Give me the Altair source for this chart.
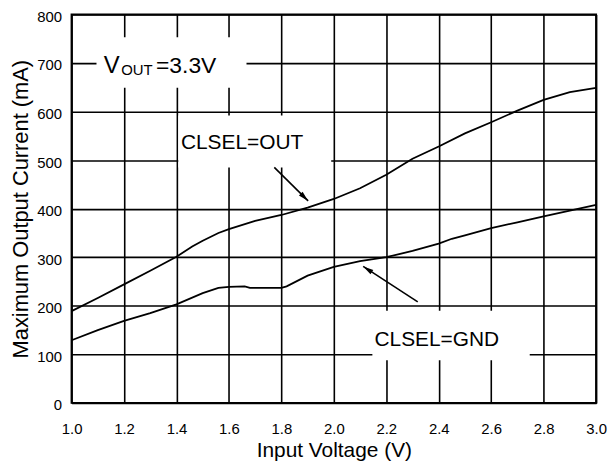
import altair as alt
import pandas as pd

# ---- data ----
vin_out = [1.0, 1.1, 1.2, 1.3, 1.4, 1.46, 1.5, 1.56, 1.6, 1.7, 1.8, 1.9, 2.0, 2.1,
           2.2, 2.3, 2.4, 2.5, 2.6, 2.7, 2.8, 2.9, 3.0]
i_out = [189, 216, 244, 272, 301, 322, 334, 350, 358, 375, 387, 402, 420, 442,
         470, 503, 528, 555, 578, 602, 624, 640, 649]

vin_gnd = [1.0, 1.1, 1.2, 1.3, 1.4, 1.5, 1.56, 1.6, 1.66, 1.68, 1.8, 1.82, 1.9,
           2.0, 2.1, 2.2, 2.3, 2.4, 2.45, 2.5, 2.6, 2.7, 2.8, 2.9, 3.0]
i_gnd = [129, 150, 169, 185, 203, 226, 237, 239, 240, 237, 237, 240, 262,
         280, 292, 300, 313, 328, 338, 345, 360, 372, 384, 396, 408]

x_ticks = [1.0, 1.2, 1.4, 1.6, 1.8, 2.0, 2.2, 2.4, 2.6, 2.8, 3.0]
y_ticks = [0, 100, 200, 300, 400, 500, 600, 700, 800]

# annotation boxes (data coordinates)
box_x1 = [1.095, 1.407, 2.147]
box_x2 = [1.667, 1.99, 2.747]
box_y1 = [649, 485, 88]
box_y2 = [753, 592, 190]

# annotation texts
big_text = ["CLSEL=OUT", "CLSEL=GND"]
big_x = [1.417, 2.155]
big_y = [523, 118]

# arrows
arr_x1 = [1.773, 2.32]
arr_y1 = [485, 208]
arr_x2 = [1.902, 2.112]
arr_y2 = [416, 281]
arr_ang = [135, 303]

FONT = "Liberation Sans"

df_lines = pd.concat([
    pd.DataFrame({"v": vin_out, "i": i_out, "s": "OUT"}),
    pd.DataFrame({"v": vin_gnd, "i": i_gnd, "s": "GND"}),
])
df_box = pd.DataFrame({"x1": box_x1, "x2": box_x2, "y1": box_y1, "y2": box_y2})
df_big = pd.DataFrame({"x": big_x, "y": big_y, "t": big_text})
df_arr = pd.DataFrame({"x1": arr_x1, "y1": arr_y1, "x2": arr_x2, "y2": arr_y2, "a": arr_ang})

xs = alt.Scale(domain=[1.0, 3.0], nice=False, zero=False)
ys = alt.Scale(domain=[0, 800], nice=False)

xax = alt.Axis(values=x_ticks, format=".1f", title="Input Voltage (V)",
               grid=True, ticks=False, tickSize=0, domain=False, labelFlush=False,
               labelPadding=19, labelFontSize=15, titleFontSize=21,
               titleY=54, titleBaseline="alphabetic")
yax = alt.Axis(values=y_ticks, title="Maximum Output Current (mA)",
               grid=True, ticks=False, tickSize=0, domain=False, labelFlush=False,
               labelPadding=10, labelFontSize=15, labelOffset=2, titleFontSize=22,
               titleX=-44, titleBaseline="alphabetic")

base = alt.Chart(df_lines)

lines = base.mark_line(color="black", strokeWidth=1.8).encode(
    x=alt.X("v:Q", scale=xs, axis=xax),
    y=alt.Y("i:Q", scale=ys, axis=yax),
    detail="s:N",
)

boxes = alt.Chart(df_box).mark_rect(color="white").encode(
    x=alt.X("x1:Q", scale=xs), x2="x2:Q",
    y=alt.Y("y1:Q", scale=ys), y2="y2:Q",
)

big = alt.Chart(df_big).mark_text(font=FONT, fontSize=21, align="left",
                                  baseline="alphabetic", color="black").encode(
    x=alt.X("x:Q", scale=xs), y=alt.Y("y:Q", scale=ys), text="t:N")

vout_df = pd.DataFrame({"x": [1.123], "y": [679.6], "t": ["V"]})
sub_df = pd.DataFrame({"x": [1.189], "y": [675.5], "t": ["OUT"]})
eq_df = pd.DataFrame({"x": [1.322], "y": [679.6], "t": ["=3.3V"]})

t_v = alt.Chart(vout_df).mark_text(font=FONT, fontSize=24, align="left",
                                   baseline="alphabetic", color="black").encode(
    x=alt.X("x:Q", scale=xs), y=alt.Y("y:Q", scale=ys), text="t:N")
t_sub = alt.Chart(sub_df).mark_text(font=FONT, fontSize=15, align="left",
                                    baseline="alphabetic", color="black").encode(
    x=alt.X("x:Q", scale=xs), y=alt.Y("y:Q", scale=ys), text="t:N")
t_eq = alt.Chart(eq_df).mark_text(font=FONT, fontSize=23, align="left",
                                  baseline="alphabetic", color="black").encode(
    x=alt.X("x:Q", scale=xs), y=alt.Y("y:Q", scale=ys), text="t:N")

arrows = alt.Chart(df_arr).mark_rule(color="black", strokeWidth=1.6).encode(
    x=alt.X("x1:Q", scale=xs), y=alt.Y("y1:Q", scale=ys), x2="x2:Q", y2="y2:Q")

heads = alt.Chart(df_arr).mark_point(
    shape="M0,0L-0.55,2.2L0.55,2.2Z", filled=True, color="black", opacity=1,
    size=90).encode(
    x=alt.X("x2:Q", scale=xs), y=alt.Y("y2:Q", scale=ys),
    angle=alt.Angle("a:Q", scale=None))

chart = alt.layer(boxes, lines, arrows, heads, big, t_v, t_sub, t_eq).properties(
    width=528, height=391,
    background="white",
    autosize=alt.AutoSizeParams(type="none"),
    padding={"left": 64, "top": 5, "right": 12, "bottom": 58},
).configure_view(
    stroke="black", strokeWidth=2,
).configure_axis(
    gridColor="black", gridWidth=1.6, gridOpacity=1,
    labelFont=FONT, titleFont=FONT, labelColor="black", titleColor="black",
    titleFontWeight="normal",
)

chart.save("out.html", embed_options={"renderer": "svg", "actions": False})
